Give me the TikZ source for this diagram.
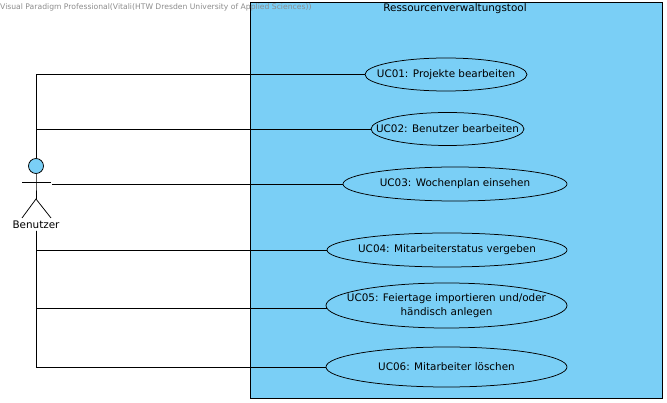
\documentclass[tikz,border=0pt]{standalone}
\usepackage{fontspec}
\setmainfont{DejaVu Sans}
\usetikzlibrary{shapes.geometric}
\definecolor{ucblue}{HTML}{7ACFF6}
\tikzset{
	usecase/.style={draw=black, line width=0.75pt, fill=ucblue, ellipse, inner xsep=-30pt, inner ysep=-10pt, align=center, font=\fontsize{10.4}{13.5}\selectfont},
	assoc/.style={draw=black, line width=0.75pt},
}

\begin{document}
\begin{tikzpicture}[x=1pt, y=-1pt]
	\useasboundingbox (0,0) rectangle (667,403);
	
	\draw[fill=ucblue, line width=0.75pt] (250.5,2.5) rectangle (662,398);
	\node[anchor=west, text=black!45, font=\fontsize{7.65}{8}\selectfont, inner sep=0pt] (watermark) at (0,7) {Visual Paradigm Professional(Vitali(HTW Dresden University of Applied Sciences))};
	\node[font=\fontsize{10.4}{10}\selectfont, inner sep=0pt] (system) at (455,9) {Ressourcenverwaltungstool};
	
	\node[usecase, minimum width=162pt, minimum height=33pt] (uc01) at (446,74.5) {UC01: Projekte bearbeiten};
	\node[usecase, minimum width=153pt, minimum height=33pt] (uc02) at (447.5,129) {UC02: Benutzer bearbeiten};
	\node[usecase, minimum width=224pt, minimum height=34pt] (uc03) at (455,184) {UC03: Wochenplan einsehen};
	\node[usecase, minimum width=240pt, minimum height=34pt] (uc04) at (447,250) {UC04: Mitarbeiterstatus vergeben};
	\node[usecase, minimum width=241pt, minimum height=45pt] (uc05) at (446.5,305.5) {UC05: Feiertage importieren und/oder\\händisch anlegen};
	\node[usecase, minimum width=241pt, minimum height=40pt] (uc06) at (446.5,367) {UC06: Mitarbeiter löschen};
	\coordinate (uc05port) at (326.5,308);
	
	% actor
	\node[draw=black, fill=ucblue, circle, minimum size=15pt, inner sep=0pt, line width=0.75pt] (head) at (36,166) {};
	\coordinate (armleft) at (22,182.5);
	\coordinate (armright) at (51,182.5);
	\coordinate (neck) at (36,182.5);
	\coordinate (hip) at (36,199);
	\coordinate (footleft) at (22,218);
	\coordinate (footright) at (51,218);
	\coordinate (handright) at (52,184);
	\draw[assoc] (head) -- (neck) -- (hip);
	\draw[assoc] (armleft) -- (armright);
	\draw[assoc] (footleft) -- (hip) -- (footright);
	\node[font=\fontsize{10.4}{10}\selectfont, inner sep=1.5pt] (benutzer) at (36,225) {Benutzer};
	
	\draw[assoc] (head) |- (uc01);
	\draw[assoc] (head) |- (uc02);
	\draw[assoc] (handright) -- (uc03);
	\draw[assoc] (benutzer) |- (uc04);
	\draw[assoc] (benutzer) |- (uc05port);
	\draw[assoc] (benutzer) |- (uc06);
\end{tikzpicture}
\end{document}
